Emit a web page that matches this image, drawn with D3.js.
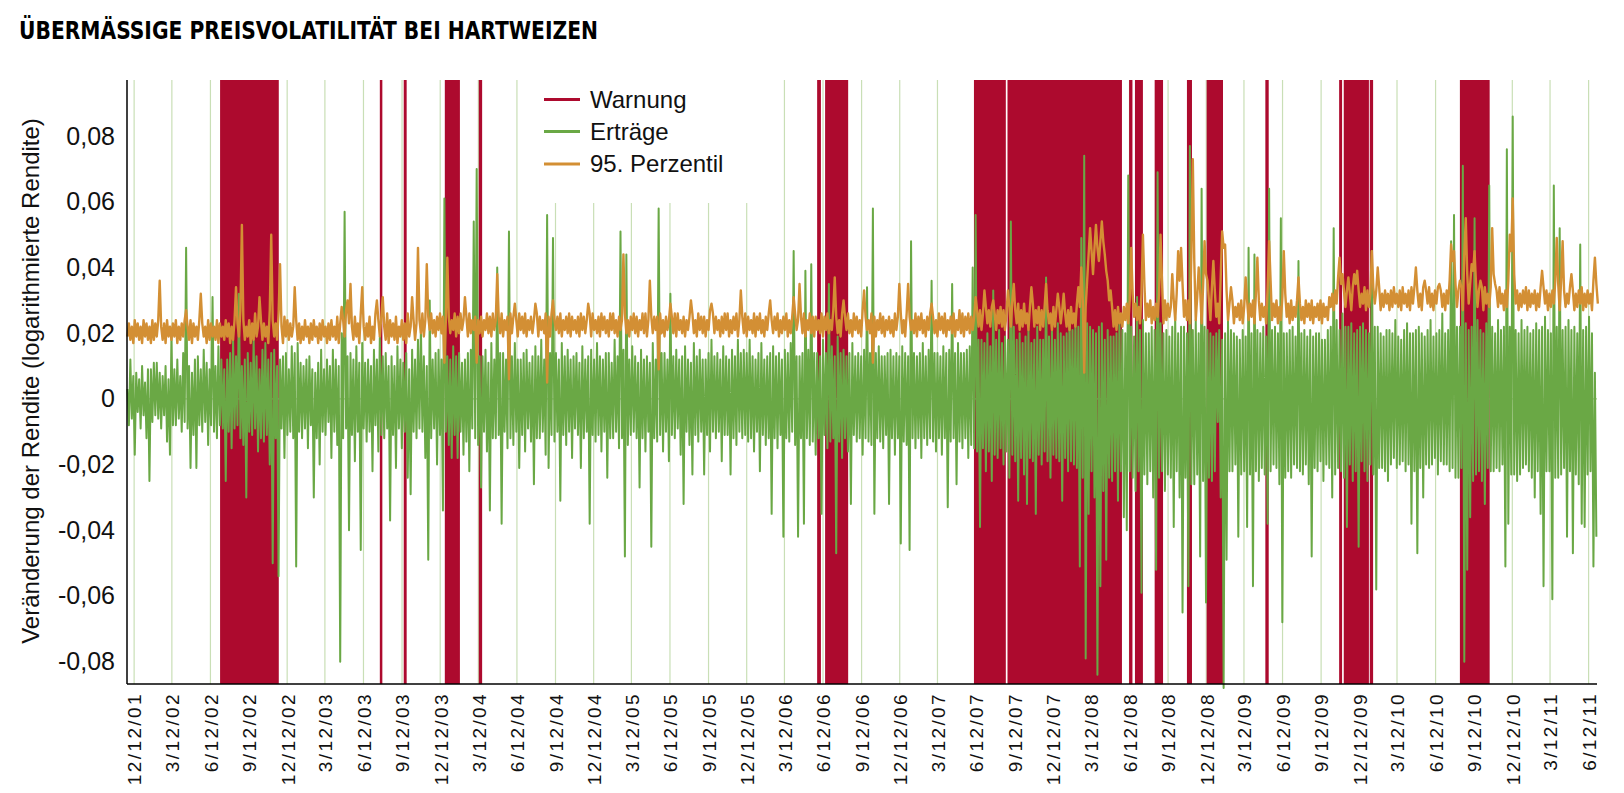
<!DOCTYPE html>
<html><head><meta charset="utf-8">
<script src="https://cdn.jsdelivr.net/npm/d3@7"></script>
<style>body{margin:0;background:#fff} svg{display:block}</style>
</head><body>
<svg id="chart" width="1624" height="793"></svg>
<script>
// ---------- data ----------
const chartTitle = "ÜBERMÄSSIGE PREISVOLATILITÄT BEI HARTWEIZEN";
const yAxisTitle = "Veränderung der Rendite (logarithmierte Rendite)";
const legendLabels = ["Warnung", "Erträge", "95. Perzentil"];
const xTickLabels = ["12/12/01","3/12/02","6/12/02","9/12/02","12/12/02","3/12/03","6/12/03","9/12/03","12/12/03",
  "3/12/04","6/12/04","9/12/04","12/12/04","3/12/05","6/12/05","9/12/05","12/12/05","3/12/06","6/12/06","9/12/06",
  "12/12/06","3/12/07","6/12/07","9/12/07","12/12/07","3/12/08","6/12/08","9/12/08","12/12/08","3/12/09","6/12/09",
  "9/12/09","12/12/09","3/12/10","6/12/10","9/12/10","12/12/10","3/12/11","6/12/11"];
const yTickValues = [-0.08, -0.06, -0.04, -0.02, 0, 0.02, 0.04, 0.06, 0.08];
const xDomain = ["2001-11-25", "2011-07-02"];
const yDomain = [-0.0868, 0.0971];
const firstObservation = "2001-11-26";   // observations every 3.5 days from here

// Erträge (log returns), in 1/1000, one value every 3.5 days
const returnsPermille = [
 3,-8,12,-6,7,-17,8,-4,6,-9,10,-5,5,-12,9,-25,9,-7,11,-5,
 11,-6,8,-9,7,-5,10,-13,6,-17,19,-8,9,-8,12,-6,7,-10,14,-7,
 46,-9,10,-21,8,-11,12,-21,13,-8,9,-10,15,-7,11,-14,9,-8,31,-10,
 10,-12,16,-8,12,-9,9,-25,12,-10,14,-15,18,-9,13,-8,32,-12,10,-14,
 12,-30,14,-10,11,-11,18,-9,13,-16,9,-12,15,-13,17,-11,12,-20,14,-50,
 15,-12,10,-54,12,-9,13,-18,14,-11,9,-10,16,-12,14,-51,17,-10,11,-12,
 10,-9,12,-15,13,-8,9,-30,8,-12,11,-20,15,-10,9,-11,12,-7,10,-18,
 15,-10,12,-14,10,-80,20,-12,57,-9,13,-40,14,-11,12,-19,16,-10,11,-46,
 17,-9,11,-13,12,-10,10,-22,15,-8,12,-16,19,-11,13,-12,14,-9,10,-37,
 13,-11,10,-21,16,-9,12,-15,11,-10,14,-24,9,-29,15,-10,12,-12,18,-9,
 22,-10,13,-18,10,-49,30,-12,12,-9,14,-20,15,-11,12,-34,61,-10,13,-14,
 12,-18,16,-11,13,-18,14,-10,11,-17,12,-13,14,-22,15,-9,54,-12,70,-14,
 13,-27,13,-10,15,-16,11,-34,17,-12,12,-12,40,-11,14,-38,14,-10,12,-15,
 51,-12,13,-14,17,-10,12,-21,12,-11,14,-16,15,-9,11,-13,13,-26,16,-12,
 13,-12,18,-10,12,-17,56,-21,14,-11,49,-13,14,-10,12,-31,17,-11,13,-14,
 15,-10,12,-18,13,-9,14,-11,11,-21,16,-12,12,-10,13,-38,15,-11,12,-13,
 17,-11,13,-16,12,-10,14,-24,14,-12,11,-12,18,-10,13,-15,51,-12,15,-48,
 44,-14,12,-11,16,-10,13,-12,11,-27,15,-12,12,-16,13,-10,11,-45,17,-12,
 12,-13,58,-11,14,-16,14,-10,12,-19,32,-11,13,-12,15,-9,12,-17,13,-32,
 16,-10,12,-14,11,-23,17,-11,13,-13,15,-10,12,-23,12,-11,14,-16,18,-10,
 13,-12,14,-10,12,-19,16,-11,13,-11,12,-23,15,-12,13,-14,18,-10,14,-12,
 15,-11,14,-13,18,-12,13,-16,12,-10,14,-22,17,-11,12,-14,13,-12,14,-35,
 16,-12,13,-15,14,-11,12,-42,15,-12,14,-13,17,-10,45,-14,13,-42,13,-12,
 14,-38,39,-12,15,-14,41,-13,14,-17,14,-12,13,-35,18,-11,14,-15,35,-13,
 16,-12,13,-47,19,-13,14,-18,15,-12,13,-16,14,-32,17,-11,13,-13,14,-12,
 13,-17,15,-12,34,-13,14,-14,58,-35,14,-12,16,-13,13,-15,13,-11,14,-32,
 15,-12,13,-17,14,-12,13,-44,16,-13,14,-14,13,-46,48,-12,14,-15,13,-12,
 14,-18,17,-12,13,-14,15,-12,36,-13,14,-16,14,-12,13,-17,16,-12,14,-33,
 15,-13,35,-12,14,-26,17,-13,14,-15,14,-12,15,-18,16,-14,40,-15,56,-16,
 18,-39,18,-15,17,-22,20,-16,16,-25,33,-17,18,-18,21,-15,17,-20,19,-16,
 18,-24,54,-17,22,-19,18,-31,20,-18,17,-23,19,-32,21,-18,17,-19,18,-35,
 22,-17,18,-20,18,-16,37,-19,19,-24,21,-17,18,-18,23,-19,20,-31,19,-18,
 20,-22,25,-19,21,-20,24,-21,22,-51,49,-24,74,-79,23,-35,22,-22,21,-30,
 20,-84,22,-57,23,-28,18,-49,21,-24,19,-25,19,-22,20,-31,24,-22,21,-36,
 20,-40,68,-22,22,-24,19,-28,31,-22,21,-59,24,-23,20,-26,20,-22,22,-30,
 21,-52,69,-24,23,-22,20,-28,21,-23,19,-24,22,-39,25,-22,20,-30,22,-65,
 22,-24,20,-57,77,-26,21,-26,24,-23,20,-48,64,-25,22,-62,21,-24,20,-25,
 19,-22,20,-7,21,-30,18,-88,20,-49,24,-22,21,-22,20,-20,19,-42,18,-23,
 21,-22,19,-39,46,-23,20,-57,44,-22,21,-25,20,-21,22,-23,19,-38,64,-22,
 21,-20,22,-21,20,-26,55,-68,20,-24,20,-22,21,-24,22,-20,19,-21,42,-22,
 20,-23,21,-20,19,-26,21,-48,19,-21,20,-22,20,-19,18,-25,18,-20,21,-21,
 22,-30,52,-23,24,-21,21,-22,26,-24,22,-39,22,-20,23,-25,20,-22,21,-45,
 22,-19,23,-22,21,-25,20,-20,45,-23,22,-58,22,-21,20,-21,19,-22,21,-25,
 21,-20,20,-18,24,-21,19,-20,18,-19,21,-22,23,-20,20,-38,20,-22,21,-47,
 22,-21,20,-30,19,-20,21,-21,24,-20,19,-18,20,-23,21,-19,26,-20,20,-20,
 21,-22,48,-21,56,-24,22,-24,22,-21,71,-80,23,-52,21,-36,22,-25,55,-23,
 24,-22,21,-25,20,-32,23,-21,65,-22,22,-22,20,-21,24,-22,21,-20,22,-51,
 76,-38,22,-23,86,-23,21,-25,20,-23,24,-21,21,-20,22,-22,20,-24,21,-30,
 23,-22,21,-35,22,-57,25,-22,21,-22,20,-61,65,-24,22,-24,52,-23,21,-21,
 22,-42,24,-22,21,-47,22,-23,20,-26,47,-38,21,-39,22,-23,25,-22,20,-51,
 8,-42
];

// 95. Perzentil, in 1/1000: weekly values ...
const percentile95Permille = [
 19, 18, 17, 19, 18, 17, 19, 18, 17, 18,
 19, 36, 18, 17, 19, 18, 19, 17, 18, 19,
 27, 18, 17, 19, 18, 32, 19, 17, 18, 19,
 18, 17, 19, 18, 19, 17, 18, 34, 19, 53,
 18, 19, 17, 18, 19, 31, 18, 19, 17, 50,
 19, 18, 41, 17, 19, 18, 19, 34, 18, 17,
 18, 19, 17, 18, 19, 17, 18, 19, 17, 18,
 19, 18, 17, 28, 19, 30, 35, 18, 19, 17,
 34, 18, 19, 17, 18, 30, 19, 31, 18, 17,
 19, 18, 17, 19, 18, 17, 19, 31, 18, 46,
 20, 19, 41, 21, 20, 19, 21, 20, 11, 43,
 20, 21, 19, 20, 21, 31, 19, 20, 21, 11,
 20, 19, 21, 20, 19, 21, 38, 20, 19, 21,
 6, 20, 29, 19, 21, 20, 19, 21, 20, 29,
 19, 21, 20, 5, 19, 30, 21, 20, 19, 21,
 20, 19, 21, 20, 19, 21, 20, 29, 19, 21,
 20, 19, 21, 20, 19, 21, 20, 19, 21, 44,
 20, 19, 21, 20, 19, 21, 20, 19, 36, 20,
 21, 9, 20, 19, 21, 29, 20, 19, 21, 20,
 19, 21, 30, 20, 19, 21, 20, 19, 21, 29,
 20, 21, 19, 20, 21, 19, 20, 21, 19, 33,
 20, 19, 21, 20, 19, 21, 20, 19, 21, 30,
 20, 21, 19, 20, 21, 19, 20, 31, 21, 35,
 20, 19, 21, 20, 19, 21, 20, 19, 21, 20,
 21, 37, 20, 19, 30, 21, 20, 19, 21, 20,
 19, 33, 21, 20, 11, 19, 21, 20, 19, 21,
 20, 19, 21, 35, 20, 19, 35, 21, 20, 19,
 21, 20, 19, 21, 29, 20, 19, 21, 20, 19,
 21, 20, 19, 21, 20, 19, 21, 20, 21, 31,
 22, 21, 33, 23, 22, 30, 21, 23, 22, 21,
 33, 22, 35, 23, 21, 22, 23, 21, 34, 22,
 23, 21, 22, 35, 23, 21, 22, 32, 23, 32,
 22, 21, 23, 22, 34, 40, 8, 36, 52, 38,
 53, 42, 54, 44, 36, 33, 22, 21, 23, 22,
 24, 23, 46, 25, 24, 23, 50, 24, 25, 23,
 24, 25, 50, 23, 24, 25, 38, 24, 45, 46,
 25, 24, 23, 73, 24, 40, 23, 48, 36, 24,
 42, 25, 23, 51, 47, 24, 34, 23, 25, 24,
 23, 37, 24, 25, 23, 43, 24, 25, 23, 48,
 24, 25, 23, 24, 45, 25, 23, 24, 25, 37,
 24, 23, 25, 24, 23, 25, 24, 23, 25, 24,
 28, 27, 29, 43, 38, 28, 37, 27, 38, 39,
 28, 29, 27, 28, 45, 29, 40, 27, 28, 29,
 27, 28, 29, 28, 27, 29, 28, 27, 29, 40,
 28, 27, 36, 29, 28, 27, 29, 35, 28, 27,
 29, 47, 45, 28, 36, 27, 55, 29, 41, 45,
 28, 36, 27, 29, 28, 52, 35, 28, 29, 27,
 28, 50, 61, 29, 27, 28, 29, 27, 28, 29,
 27, 28, 39, 29, 27, 28, 29, 49, 27, 48,
 28, 29, 38, 27, 28, 29, 27, 28, 29, 27,
 43, 29
];
// ... and the mid-week values between them
const percentile95MidPermille = [
 23, 22, 24, 23, 22, 24, 23, 22, 24, 23,
 24, 22, 23, 24, 22, 23, 24, 22, 23, 24,
 22, 24, 23, 22, 24, 23, 22, 24, 23, 22,
 24, 23, 22, 24, 23, 22, 24, 23, 27, 24,
 22, 24, 23, 26, 22, 24, 23, 22, 27, 24,
 23, 26, 22, 25, 24, 23, 22, 24, 23, 22,
 24, 22, 23, 24, 22, 23, 24, 22, 23, 24,
 22, 25, 23, 24, 27, 23, 22, 25, 23, 26,
 22, 23, 25, 22, 26, 24, 25, 22, 26, 24,
 23, 25, 22, 24, 23, 26, 22, 24, 23, 24,
 26, 24, 25, 26, 24, 25, 26, 25, 24, 25,
 24, 26, 25, 26, 24, 25, 26, 24, 25, 24,
 25, 24, 26, 25, 26, 24, 25, 26, 24, 25,
 26, 25, 24, 26, 25, 26, 24, 25, 24, 26,
 25, 24, 26, 25, 26, 24, 25, 26, 24, 25,
 26, 25, 24, 25, 26, 25, 24, 26, 26, 24,
 25, 26, 25, 24, 26, 26, 24, 25, 24, 26,
 24, 25, 26, 25, 24, 26, 26, 24, 25, 25,
 25, 26, 24, 25, 24, 25, 26, 26, 24, 25,
 24, 25, 26, 24, 26, 25, 25, 24, 27, 26,
 25, 24, 25, 26, 26, 24, 25, 26, 24, 25,
 26, 25, 24, 26, 25, 26, 24, 25, 26, 24,
 25, 26, 24, 25, 26, 24, 25, 26, 24, 25,
 26, 24, 26, 25, 25, 24, 26, 25, 26, 24,
 27, 25, 24, 26, 25, 26, 24, 26, 25, 24,
 27, 25, 24, 26, 25, 24, 26, 25, 24, 25,
 24, 26, 25, 26, 24, 26, 25, 24, 26, 25,
 26, 24, 25, 26, 25, 24, 26, 25, 26, 24,
 25, 26, 24, 27, 26, 25, 26, 25, 25, 27,
 27, 26, 28, 27, 28, 26, 27, 28, 27, 26,
 28, 30, 27, 29, 27, 29, 26, 28, 29, 27,
 28, 27, 28, 27, 26, 28, 27, 28, 27, 26,
 27, 28, 26, 29, 28, 30, 28, 44, 45, 46,
 46, 48, 48, 39, 30, 28, 27, 28, 26, 28,
 29, 30, 32, 29, 28, 32, 35, 29, 30, 28,
 29, 32, 36, 30, 29, 28, 30, 32, 36, 35,
 30, 30, 44, 42, 31, 33, 34, 38, 30, 34,
 33, 29, 37, 46, 33, 29, 30, 28, 29, 30,
 28, 30, 29, 30, 32, 30, 29, 28, 34, 36,
 29, 30, 28, 31, 32, 29, 30, 28, 30, 29,
 28, 30, 29, 30, 28, 29, 30, 29, 28, 31,
 32, 33, 37, 35, 33, 33, 32, 34, 35, 33,
 32, 34, 33, 32, 34, 33, 34, 32, 33, 32,
 33, 34, 32, 33, 34, 32, 33, 34, 34, 33,
 32, 34, 33, 34, 32, 33, 34, 33, 32, 33,
 36, 42, 35, 33, 34, 44, 38, 35, 39, 35,
 33, 34, 34, 32, 34, 38, 33, 34, 32, 33,
 36, 45, 38, 33, 32, 33, 34, 33, 32, 33,
 32, 34, 34, 33, 32, 33, 36, 35, 36, 33,
 32, 34, 33, 32, 33, 34, 32, 33, 32, 36,
 35
];

// Warnung periods
const warningPeriods = [
 ["2002-07-05","2002-11-22"], ["2003-07-21","2003-07-27"], ["2003-09-16","2003-09-23"],
 ["2003-12-23","2004-01-28"], ["2004-03-13","2004-03-21"], ["2006-05-29","2006-06-07"],
 ["2006-06-17","2006-08-11"], ["2007-06-07","2007-08-22"], ["2007-08-26","2008-05-25"],
 ["2008-06-11","2008-06-19"], ["2008-06-25","2008-07-14"], ["2008-08-11","2008-08-31"],
 ["2008-10-27","2008-11-08"], ["2008-12-13","2009-01-21"], ["2009-05-02","2009-05-10"],
 ["2009-10-25","2009-11-01"], ["2009-11-05","2010-01-04"], ["2010-01-06","2010-01-14"],
 ["2010-08-09","2010-10-19"]
];

// ---------- drawing ----------
const COL_RED = "#ad0a2e", COL_GREEN = "#6aa845", COL_ORANGE = "#d38f34", COL_GRID = "#c9dfb6";
const FONT = "'Liberation Sans', Arial, sans-serif";
const parseISO = d3.timeParse("%Y-%m-%d");
const parseTick = d3.timeParse("%m/%d/%y");

const svg = d3.select("#chart");
const plot = {left: 127, right: 1597, top: 80, bottom: 684};

const x = d3.scaleTime().domain(xDomain.map(parseISO)).range([plot.left, plot.right]);
const y = d3.scaleLinear().domain(yDomain).range([plot.bottom, plot.top]);

const t0 = parseISO(firstObservation);
const at = j => d3.timeHour.offset(t0, 84 * j);   // 3.5-day steps
const returns = returnsPermille.map((v, j) => ({date: at(j), value: v / 1000}));
const percValues = [];
percentile95Permille.forEach((v, i) => {
  percValues.push(v);
  if (i < percentile95MidPermille.length) percValues.push(percentile95MidPermille[i]);
});
const perc = percValues.map((v, j) => ({date: at(j), value: v / 1000}));
const tickDates = xTickLabels.map(parseTick);

// title
svg.append("text").attr("x", 19).attr("y", 38.5)
  .attr("font-family", "'Liberation Sans Narrow', 'DejaVu Sans Condensed', 'Liberation Sans', sans-serif")
  .attr("font-stretch", "condensed")
  .attr("font-weight", "bold").attr("font-size", 25)
  .attr("textLength", 579).attr("lengthAdjust", "spacingAndGlyphs")
  .attr("fill", "#000").text(chartTitle);

// vertical grid lines
svg.append("g").selectAll("line").data(tickDates).join("line")
  .attr("x1", d => x(d)).attr("x2", d => x(d))
  .attr("y1", plot.top).attr("y2", plot.bottom)
  .attr("stroke", COL_GRID).attr("stroke-width", 1.2);

// legend background (hides grid behind legend)
svg.append("rect").attr("x", 535).attr("y", plot.top).attr("width", 240).attr("height", 123).attr("fill", "#fff");

// warning bands
svg.append("g").selectAll("rect").data(warningPeriods).join("rect")
  .attr("x", d => x(parseISO(d[0])))
  .attr("width", d => x(parseISO(d[1])) - x(parseISO(d[0])))
  .attr("y", plot.top).attr("height", plot.bottom - plot.top)
  .attr("fill", COL_RED);

// zero line
svg.append("line").attr("x1", plot.left).attr("x2", plot.right)
  .attr("y1", y(0)).attr("y2", y(0)).attr("stroke", "#8fbf72").attr("stroke-width", 1);

const line = d3.line().x(d => x(d.date)).y(d => y(d.value));
svg.append("path").datum(returns).attr("d", line)
  .attr("fill", "none").attr("stroke", COL_GREEN).attr("stroke-width", 2).attr("stroke-linejoin", "round");
svg.append("path").datum(perc).attr("d", line)
  .attr("fill", "none").attr("stroke", COL_ORANGE).attr("stroke-width", 2.4).attr("stroke-linejoin", "round");

// axes
const locale = d3.formatLocale({decimal: ",", thousands: ".", grouping: [3], currency: ["", "€"], minus: "-"});
const fmt = locale.format(".2f");
const yAxis = d3.axisLeft(y).tickValues(yTickValues).tickSize(0).tickPadding(12)
  .tickFormat(d => d === 0 ? "0" : fmt(d));
const gy = svg.append("g").attr("transform", `translate(${plot.left},0)`).call(yAxis);
gy.select(".domain").remove();
gy.selectAll("text").attr("font-family", FONT).attr("font-size", 25).attr("fill", "#111");

const xAxis = d3.axisBottom(x).tickValues(tickDates).tickSize(0).tickFormat((d, i) => xTickLabels[i]);
const gx = svg.append("g").attr("transform", `translate(0,${plot.bottom})`).call(xAxis);
gx.select(".domain").remove();
gx.selectAll("text")
  .attr("font-family", FONT).attr("font-size", 19).attr("letter-spacing", 2.4).attr("fill", "#111")
  .attr("text-anchor", "end").attr("transform", "rotate(-90)")
  .attr("x", -8).attr("y", 0).attr("dy", "0.36em");

// axis lines
svg.append("line").attr("x1", plot.left).attr("x2", plot.left).attr("y1", plot.top).attr("y2", plot.bottom)
  .attr("stroke", "#000").attr("stroke-width", 1.5);
svg.append("line").attr("x1", plot.left).attr("x2", plot.right).attr("y1", plot.bottom).attr("y2", plot.bottom)
  .attr("stroke", "#000").attr("stroke-width", 1.5);

// y-axis title
svg.append("text").attr("transform", `translate(31,${(plot.top + plot.bottom) / 2 - 1}) rotate(-90)`)
  .attr("text-anchor", "middle").attr("dy", "0.35em")
  .attr("font-family", FONT).attr("font-size", 24).attr("fill", "#111").text(yAxisTitle);

// legend
const legendColors = [COL_RED, COL_GREEN, COL_ORANGE];
const legendY = [99.5, 131.5, 164];
const lg = svg.append("g");
legendLabels.forEach((lab, i) => {
  lg.append("line").attr("x1", 544).attr("x2", 580).attr("y1", legendY[i]).attr("y2", legendY[i])
    .attr("stroke", legendColors[i]).attr("stroke-width", 3);
  lg.append("text").attr("x", 590).attr("y", legendY[i]).attr("dy", "0.35em")
    .attr("font-family", FONT).attr("font-size", 24).attr("fill", "#111").text(lab);
});
</script>
</body></html>
